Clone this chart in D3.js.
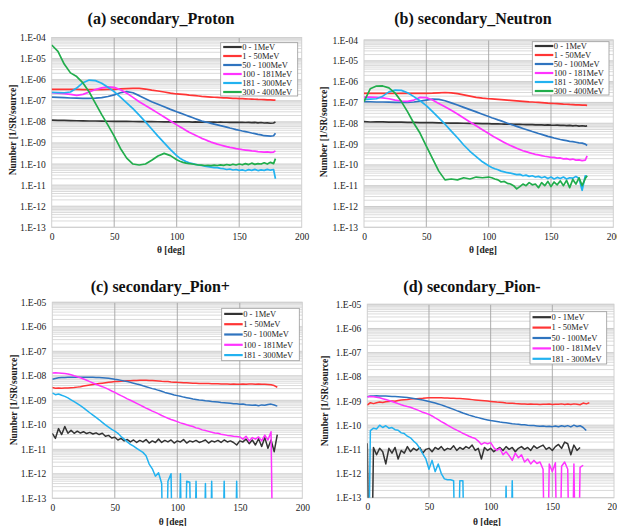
<!DOCTYPE html>
<html>
<head>
<meta charset="utf-8">
<script src="https://cdn.jsdelivr.net/npm/d3@7"></script>
<style>
body { margin: 0; background: #fff; }
svg { display: block; font-family: "Liberation Serif", "Times New Roman", serif; }
</style>
</head>
<body>
<svg id="chart" width="617" height="526"></svg>
<script>
// ---- data ----
const nucleonAngles = [0,5,10,15,20,25,30,35,40,45,50,55,60,65,70,75,80,85,90,95,100,
  102.5,105,107.5,110,112.5,115,117.5,120,122.5,125,127.5,130,132.5,135,137.5,140,142.5,145,147.5,150,
  152.5,155,157.5,160,162.5,165,167.5,170,172.5,175,177.5,179];

const pionAngles = [0,2.5,5,7.5,10,12.5,15,17.5,20,22.5,25,27.5,30,32.5,35,37.5,40,42.5,45,47.5,
  50,52.5,55,57.5,60,62.5,65,67.5,70,72.5,75,77.5,80,82.5,85,87.5,90,92.5,95,97.5,
  100,102.5,105,107.5,110,112.5,115,117.5,120,122.5,125,127.5,130,132.5,135,137.5,140,142.5,145,147.5,
  150,152.5,155,157.5,160,162.5,165,167.5,170,172.5,175,177.5,180];

const nucleonBands = ['0 - 1MeV', '1 - 50MeV', '50 - 100MeV', '100 - 181MeV', '181 - 300MeV', '300 - 400MeV'];
const pionBands = ['0 - 1MeV', '1 - 50MeV', '50 - 100MeV', '100 - 181MeV', '181 - 300MeV'];
const bandColors = ['#333333', '#ff3535', '#2f74bf', '#ff33ff', '#22b2f0', '#22ad4c'];

const xTicks = [0, 50, 100, 150, 200];
const yTicksNucleon = [1e-13,1e-12,1e-11,1e-10,1e-9,1e-8,1e-7,1e-6,1e-5,1e-4];
const yTicksPion = [1e-13,1e-12,1e-11,1e-10,1e-9,1e-8,1e-7,1e-6,1e-5];

// (a) secondary proton
const proton_0_1 = [1.2e-8,1.18e-8,1.17e-8,1.15e-8,1.13e-8,1.12e-8,1.1e-8,1.1e-8,1.08e-8,1.07e-8,
  1.06e-8,1.05e-8,1.05e-8,1.04e-8,1.03e-8,1.03e-8,1.02e-8,1.01e-8,1.0e-8,1.0e-8,1.0e-8,
  1.0e-8,9.9e-9,1.0e-8,9.9e-9,9.8e-9,9.9e-9,9.8e-9,9.8e-9,9.7e-9,9.8e-9,
  9.7e-9,9.7e-9,9.6e-9,9.7e-9,9.6e-9,9.6e-9,9.5e-9,9.6e-9,9.5e-9,9.4e-9,
  9.5e-9,9.3e-9,9.5e-9,9.2e-9,9.4e-9,9.0e-9,9.3e-9,8.8e-9,9.0e-9,8.6e-9,8.8e-9,1.0e-8];
const proton_1_50 = [3.5e-7,3.5e-7,3.5e-7,3.5e-7,3.45e-7,3.4e-7,3.4e-7,3.4e-7,3.4e-7,3.45e-7,
  3.5e-7,3.65e-7,3.8e-7,3.9e-7,3.9e-7,3.6e-7,3.2e-7,2.9e-7,2.6e-7,2.3e-7,2.1e-7,
  2.05e-7,2.0e-7,1.95e-7,1.85e-7,1.8e-7,1.75e-7,1.68e-7,1.62e-7,1.58e-7,1.54e-7,
  1.5e-7,1.47e-7,1.44e-7,1.41e-7,1.38e-7,1.36e-7,1.33e-7,1.31e-7,1.29e-7,1.27e-7,
  1.25e-7,1.23e-7,1.21e-7,1.2e-7,1.18e-7,1.16e-7,1.15e-7,1.13e-7,1.11e-7,1.1e-7,1.08e-7,1.07e-7];
const proton_50_100 = [1.5e-7,1.45e-7,1.4e-7,1.35e-7,1.32e-7,1.3e-7,1.3e-7,1.33e-7,1.4e-7,1.6e-7,
  1.9e-7,2.4e-7,2.7e-7,2.4e-7,1.75e-7,1.25e-7,9e-8,6.8e-8,5.2e-8,3.9e-8,3.0e-8,
  2.66e-8,2.34e-8,2.07e-8,1.82e-8,1.6e-8,1.41e-8,1.24e-8,1.1e-8,1.0e-8,9.3e-9,
  8.5e-9,7.8e-9,7.2e-9,6.6e-9,6.1e-9,5.6e-9,5.1e-9,4.7e-9,4.3e-9,4.0e-9,
  3.7e-9,3.45e-9,3.2e-9,2.95e-9,2.75e-9,2.55e-9,2.4e-9,2.2e-9,2.15e-9,2.1e-9,2.2e-9,2.9e-9];
const proton_100_181 = [2.4e-7,2.3e-7,2.2e-7,2.0e-7,1.8e-7,2.0e-7,2.6e-7,3.4e-7,4.1e-7,4.6e-7,
  4.3e-7,3.3e-7,2.3e-7,1.45e-7,9e-8,6e-8,4e-8,2.6e-8,1.7e-8,1.1e-8,7.2e-9,
  5.9e-9,4.8e-9,3.9e-9,3.2e-9,2.7e-9,2.3e-9,1.95e-9,1.65e-9,1.45e-9,1.25e-9,
  1.1e-9,9.8e-10,8.8e-10,8e-10,7.3e-10,6.7e-10,6.2e-10,5.8e-10,5.4e-10,5.1e-10,
  4.8e-10,4.6e-10,4.4e-10,4.2e-10,4.1e-10,3.9e-10,3.8e-10,3.7e-10,3.8e-10,3.6e-10,3.7e-10,4.2e-10];
const proton_181_300 = [2.5e-7,2.45e-7,2.4e-7,2.6e-7,4e-7,7.2e-7,9.6e-7,9e-7,6.8e-7,4.4e-7,
  2.7e-7,1.5e-7,8e-8,4.2e-8,2.1e-8,1e-8,4.6e-9,2.1e-9,1e-9,4.8e-10,2.5e-10,
  1.9e-10,1.55e-10,1.3e-10,1.15e-10,1.05e-10,9.6e-11,9e-11,8.5e-11,8e-11,7.6e-11,
  7.2e-11,6.8e-11,6.8e-11,6.2e-11,6e-11,5.5e-11,5.8e-11,5.2e-11,5.5e-11,5e-11,
  5.3e-11,4.8e-11,5.4e-11,5e-11,5.6e-11,4.9e-11,5.3e-11,5e-11,5.6e-11,5.1e-11,5.5e-11,2.0e-11];
const proton_300_400 = [4.4e-5,2.2e-5,5.5e-6,2.1e-6,1.4e-6,7e-7,2.6e-7,7.5e-8,2.2e-8,7e-9,
  2.1e-9,5.5e-10,1.9e-10,1.0e-10,9e-11,1.0e-10,1.5e-10,2.4e-10,3.2e-10,2.5e-10,1.6e-10,
  1.35e-10,1.2e-10,1.1e-10,1.05e-10,1.0e-10,9.5e-11,9e-11,8.8e-11,8.5e-11,8.6e-11,
  8.4e-11,8.8e-11,8.5e-11,9.2e-11,8.6e-11,9.5e-11,8.8e-11,9.8e-11,9e-11,1.0e-10,
  9.2e-11,1.05e-10,9.4e-11,1.1e-10,9.6e-11,1.05e-10,1.0e-10,1.15e-10,1.0e-10,1.2e-10,1.05e-10,1.8e-10];

// (b) secondary neutron
const neutron_0_1 = [1.2e-8,1.15e-8,1.18e-8,1.16e-8,1.14e-8,1.13e-8,1.12e-8,1.1e-8,1.1e-8,1.08e-8,
  1.07e-8,1.06e-8,1.05e-8,1.03e-8,1.02e-8,1.01e-8,1.0e-8,9.9e-9,9.8e-9,9.6e-9,9.5e-9,
  9.4e-9,9.3e-9,9.3e-9,9.2e-9,9.1e-9,9e-9,9e-9,8.9e-9,8.8e-9,8.8e-9,
  8.7e-9,8.6e-9,8.6e-9,8.5e-9,8.4e-9,8.4e-9,8.3e-9,8.2e-9,8.3e-9,8.1e-9,
  8e-9,8.1e-9,7.9e-9,8e-9,7.7e-9,7.9e-9,7.5e-9,7.8e-9,7.3e-9,7.6e-9,7.2e-9,7.5e-9];
const neutron_1_50 = [2.7e-7,2.7e-7,2.7e-7,2.7e-7,2.7e-7,2.68e-7,2.7e-7,2.7e-7,2.7e-7,2.72e-7,
  2.75e-7,2.8e-7,2.9e-7,3.0e-7,2.9e-7,2.65e-7,2.3e-7,2.0e-7,1.75e-7,1.6e-7,1.5e-7,
  1.47e-7,1.43e-7,1.4e-7,1.36e-7,1.33e-7,1.3e-7,1.26e-7,1.22e-7,1.19e-7,1.16e-7,
  1.13e-7,1.1e-7,1.07e-7,1.05e-7,1.02e-7,1.0e-7,9.8e-8,9.6e-8,9.3e-8,9.1e-8,
  8.9e-8,8.7e-8,8.5e-8,8.3e-8,8.2e-8,8e-8,7.9e-8,7.7e-8,7.6e-8,7.5e-8,7.4e-8,7.3e-8];
const neutron_50_100 = [1.1e-7,1.08e-7,1.05e-7,1.05e-7,1.03e-7,1.0e-7,1.0e-7,1.0e-7,1.05e-7,1.15e-7,
  1.3e-7,1.45e-7,1.4e-7,1.2e-7,9.5e-8,7.5e-8,5.8e-8,4.5e-8,3.5e-8,2.7e-8,2.1e-8,
  1.85e-8,1.65e-8,1.45e-8,1.3e-8,1.15e-8,1.0e-8,9e-9,8e-9,7.1e-9,6.3e-9,
  5.6e-9,5e-9,4.5e-9,4e-9,3.6e-9,3.2e-9,2.9e-9,2.6e-9,2.35e-9,2.15e-9,
  1.95e-9,1.8e-9,1.65e-9,1.55e-9,1.45e-9,1.35e-9,1.3e-9,1.22e-9,1.15e-9,1.1e-9,1.0e-9,8.5e-10];
const neutron_100_181 = [1.8e-7,1.78e-7,1.75e-7,1.65e-7,1.5e-7,1.3e-7,1.17e-7,1.12e-7,1.3e-7,1.75e-7,
  1.7e-7,1.3e-7,9e-8,6.2e-8,4.2e-8,2.8e-8,1.8e-8,1.15e-8,7.5e-9,4.9e-9,3.2e-9,
  2.6e-9,2.1e-9,1.75e-9,1.45e-9,1.2e-9,1.0e-9,8.5e-10,7.3e-10,6.3e-10,5.5e-10,
  4.8e-10,4.3e-10,3.9e-10,3.5e-10,3.2e-10,3.0e-10,2.8e-10,2.6e-10,2.45e-10,2.3e-10,
  2.3e-10,2.1e-10,2.15e-10,1.95e-10,2.0e-10,1.8e-10,1.9e-10,1.7e-10,1.75e-10,1.6e-10,1.7e-10,2.7e-10];
const neutron_181_300 = [1.4e-7,1.45e-7,1.5e-7,2e-7,3.2e-7,3.9e-7,3.8e-7,2.9e-7,1.9e-7,1.2e-7,
  7e-8,3.6e-8,1.8e-8,9e-9,4.2e-9,2e-9,9e-10,4.5e-10,2.5e-10,1.4e-10,9e-11,
  7.5e-11,6.5e-11,5.8e-11,5e-11,4.6e-11,4.2e-11,4e-11,3.7e-11,3.4e-11,3.5e-11,
  3e-11,3.2e-11,2.8e-11,3e-11,2.6e-11,2.8e-11,2.4e-11,2.7e-11,2.2e-11,2.6e-11,
  2.1e-11,2.5e-11,2.2e-11,2.6e-11,2.1e-11,2.4e-11,2.3e-11,2.8e-11,2.2e-11,6e-12,3e-11,2.7e-11];
const neutron_300_400 = [1.1e-7,4.5e-7,6.1e-7,6.2e-7,5e-7,2.8e-7,1.1e-7,3.5e-8,1.0e-8,3.3e-9,
  8e-10,2e-10,5e-11,1.9e-11,2.1e-11,1.9e-11,2.4e-11,2.1e-11,2.6e-11,2.4e-11,2.6e-11,
  2.4e-11,2.1e-11,1.9e-11,1.5e-11,1.6e-11,1.3e-11,1.2e-11,1.0e-11,7e-12,9e-12,
  1.2e-11,1.0e-11,1.4e-11,1.1e-11,1.2e-11,8e-12,1.4e-11,1.0e-11,1.6e-11,9e-12,
  1.5e-11,1.1e-11,1.7e-11,1.0e-11,1.8e-11,8e-12,2.0e-11,1.2e-11,2.4e-11,1.0e-11,2.2e-11,3e-11];

// (c) secondary pion+  (1e-20 = zero count, null = no data)
const pionPlus_0_1 = [4.5e-11,2.8e-11,7e-11,4e-11,8.5e-11,4.5e-11,6e-11,4.5e-11,5.5e-11,4.6e-11,
  5.2e-11,4.4e-11,4.9e-11,4.2e-11,4.7e-11,4e-11,4.5e-11,3.4e-11,3.7e-11,2.9e-11,
  3.1e-11,2.4e-11,2.8e-11,2.2e-11,2.5e-11,2.0e-11,2.4e-11,1.9e-11,2.3e-11,2e-11,
  2.5e-11,1.8e-11,2.2e-11,1.9e-11,2.6e-11,1.9e-11,2.3e-11,2e-11,2.4e-11,1.8e-11,
  2.2e-11,2e-11,2.5e-11,1.8e-11,2.2e-11,2e-11,2.3e-11,1.9e-11,2.1e-11,2.4e-11,
  1.8e-11,2.2e-11,2e-11,2.3e-11,1.9e-11,2.4e-11,2e-11,2.2e-11,1.9e-11,1.5e-11,
  2.2e-11,2e-11,2.6e-11,1.7e-11,2.4e-11,1.5e-11,2.7e-11,1.3e-11,3e-11,1.1e-11,
  2.4e-11,8e-12,4e-11];
const pionPlus_1_50 = [3.3e-9,3.1e-9,3.2e-9,3.1e-9,3.2e-9,3.15e-9,3.25e-9,3.3e-9,3.45e-9,3.6e-9,
  3.8e-9,4.0e-9,4.2e-9,4.4e-9,4.6e-9,4.8e-9,5.0e-9,5.2e-9,5.4e-9,5.6e-9,
  5.8e-9,5.9e-9,6.0e-9,6.15e-9,6.3e-9,6.35e-9,6.45e-9,6.5e-9,6.6e-9,6.55e-9,
  6.6e-9,6.5e-9,6.4e-9,6.3e-9,6.2e-9,6.0e-9,5.9e-9,5.8e-9,5.6e-9,5.5e-9,
  5.4e-9,5.35e-9,5.2e-9,5.15e-9,5.1e-9,5.0e-9,5.0e-9,4.9e-9,4.9e-9,4.8e-9,
  4.8e-9,4.75e-9,4.7e-9,4.7e-9,4.6e-9,4.65e-9,4.6e-9,4.55e-9,4.6e-9,4.5e-9,
  4.5e-9,4.6e-9,4.5e-9,4.6e-9,4.6e-9,4.5e-9,4.6e-9,4.5e-9,4.5e-9,4.4e-9,
  4.3e-9,4.0e-9,3.4e-9];
const pionPlus_50_100 = [7.2e-9,7.8e-9,8.3e-9,8.5e-9,8.6e-9,8.7e-9,8.7e-9,8.8e-9,8.8e-9,8.8e-9,
  8.8e-9,8.8e-9,8.7e-9,8.7e-9,8.6e-9,8.5e-9,8.4e-9,8.2e-9,7.9e-9,7.6e-9,
  7.2e-9,6.9e-9,6.5e-9,6.1e-9,5.8e-9,5.4e-9,5.0e-9,4.6e-9,4.3e-9,3.9e-9,
  3.6e-9,3.3e-9,3.0e-9,2.8e-9,2.55e-9,2.35e-9,2.1e-9,1.95e-9,1.8e-9,1.65e-9,
  1.55e-9,1.45e-9,1.35e-9,1.27e-9,1.2e-9,1.13e-9,1.08e-9,1.03e-9,1.0e-9,9.6e-10,
  9.3e-10,9.0e-10,8.8e-10,8.5e-10,8.2e-10,8.0e-10,7.8e-10,7.6e-10,7.3e-10,7.2e-10,
  6.9e-10,7.0e-10,6.6e-10,6.5e-10,6.3e-10,6.4e-10,6.0e-10,6.5e-10,6.3e-10,6.8e-10,
  7.0e-10,6.4e-10,5.8e-10];
const pionPlus_100_181 = [1.3e-8,1.32e-8,1.3e-8,1.28e-8,1.24e-8,1.18e-8,1.1e-8,1.0e-8,9.2e-9,8.3e-9,
  7.4e-9,6.6e-9,5.8e-9,5.1e-9,4.5e-9,4e-9,3.6e-9,3.2e-9,2.8e-9,2.4e-9,
  2.1e-9,1.8e-9,1.55e-9,1.35e-9,1.15e-9,1.0e-9,8.7e-10,7.5e-10,6.5e-10,5.6e-10,
  4.8e-10,4.2e-10,3.6e-10,3.2e-10,2.8e-10,2.4e-10,2.1e-10,1.85e-10,1.65e-10,1.5e-10,
  1.35e-10,1.2e-10,1.1e-10,1.0e-10,9.2e-11,8.5e-11,7.5e-11,7e-11,6.2e-11,5.8e-11,
  5.4e-11,5e-11,4.6e-11,4.5e-11,4.1e-11,3.9e-11,3.7e-11,3.6e-11,3.4e-11,3.3e-11,
  3.2e-11,2.6e-11,3.4e-11,2.2e-11,3e-11,2.6e-11,3.2e-11,2.2e-11,3.8e-11,2.4e-11,
  5.2e-11,1e-20,null];
const pionPlus_181_300 = [2.0e-9,1.7e-9,1.8e-9,1.6e-9,1.45e-9,1.25e-9,1.05e-9,8.8e-10,7.3e-10,6e-10,
  4.9e-10,3.9e-10,3.1e-10,2.5e-10,2e-10,1.6e-10,1.25e-10,1.0e-10,8e-11,6.5e-11,
  5.5e-11,4.5e-11,3.3e-11,2.6e-11,2e-11,1.6e-11,1.35e-11,1.1e-11,9e-12,7.5e-12,
  5.5e-12,2.5e-12,1.6e-12,8e-13,1.1e-12,4e-13,1e-20,5e-13,1e-12,1e-20,
  1e-20,1e-12,1e-20,5e-13,4.5e-13,1e-20,5e-13,1e-20,1e-20,4e-13,
  1e-20,5e-13,1e-20,1e-20,1e-20,5e-13,1e-20,1e-20,1e-20,5e-13,
  1e-20,null,null,null,null,null,null,null,null,null,
  null,null,null];

// (d) secondary pion-
const pionMinus_0_1 = [1.8e-11,1e-20,1.2e-11,6e-12,1.1e-11,8e-12,2.5e-12,1.1e-11,7e-12,1.2e-11,
  4e-12,9e-12,7e-12,1.3e-11,8e-12,1.1e-11,9e-12,1.2e-11,7e-12,1.0e-11,
  1.1e-11,8e-12,1.2e-11,1.0e-11,1.3e-11,9e-12,1.1e-11,1.0e-11,1.4e-11,9e-12,
  1.2e-11,1.0e-11,1.3e-11,1.1e-11,1.5e-11,9e-12,1.1e-11,4e-12,1.2e-11,9e-12,
  1.1e-11,8e-12,1.0e-11,1.2e-11,9e-12,1.3e-11,1.0e-11,1.2e-11,8e-12,1.1e-11,
  1.3e-11,1.0e-11,1.2e-11,9e-12,1.4e-11,1.1e-11,1.3e-11,1.5e-11,1.0e-11,1.2e-11,
  9e-12,1.3e-11,1.6e-11,1.1e-11,2e-11,1.7e-11,6e-12,1.5e-11,9e-12,1.2e-11,
  null,null,null];
const pionMinus_1_50 = [6.8e-10,8.5e-10,7.8e-10,8.5e-10,9.0e-10,8.6e-10,9.3e-10,9.5e-10,1.0e-9,9.8e-10,
  1.05e-9,1.1e-9,1.13e-9,1.15e-9,1.2e-9,1.23e-9,1.25e-9,1.28e-9,1.3e-9,1.33e-9,
  1.35e-9,1.36e-9,1.35e-9,1.36e-9,1.35e-9,1.34e-9,1.33e-9,1.31e-9,1.3e-9,1.28e-9,
  1.26e-9,1.23e-9,1.2e-9,1.17e-9,1.14e-9,1.11e-9,1.08e-9,1.05e-9,1.02e-9,9.9e-10,
  9.6e-10,9.3e-10,9.0e-10,8.8e-10,8.6e-10,8.3e-10,8.1e-10,8.0e-10,7.8e-10,7.7e-10,
  7.5e-10,7.6e-10,7.4e-10,7.5e-10,7.3e-10,7.4e-10,7.2e-10,7.3e-10,7.3e-10,7.5e-10,
  7.2e-10,7.4e-10,7.3e-10,7.6e-10,7.2e-10,7.5e-10,7.1e-10,7.6e-10,7.3e-10,7.0e-10,
  8.2e-10,7.6e-10,8.4e-10];
const pionMinus_50_100 = [1.5e-9,1.6e-9,1.62e-9,1.63e-9,1.62e-9,1.61e-9,1.6e-9,1.58e-9,1.55e-9,1.53e-9,
  1.5e-9,1.46e-9,1.42e-9,1.38e-9,1.33e-9,1.28e-9,1.22e-9,1.16e-9,1.1e-9,1.03e-9,
  9.6e-10,8.9e-10,8.2e-10,7.5e-10,6.9e-10,6.2e-10,5.6e-10,5.0e-10,4.5e-10,4.0e-10,
  3.6e-10,3.2e-10,2.9e-10,2.6e-10,2.4e-10,2.2e-10,2.05e-10,1.9e-10,1.75e-10,1.65e-10,
  1.55e-10,1.5e-10,1.42e-10,1.35e-10,1.3e-10,1.25e-10,1.2e-10,1.15e-10,1.12e-10,1.1e-10,
  1.05e-10,1.03e-10,1.0e-10,9.8e-11,9.6e-11,9.3e-11,9e-11,9.2e-11,8.8e-11,9e-11,
  8.7e-11,9.3e-11,8.6e-11,9.5e-11,8.8e-11,9.6e-11,8.5e-11,1.0e-10,8.8e-11,9.5e-11,
  8e-11,6e-11,null];
const pionMinus_100_181 = [1.5e-9,1.55e-9,1.5e-9,1.42e-9,1.35e-9,1.25e-9,1.15e-9,1.05e-9,9.5e-10,8.6e-10,
  7.8e-10,7e-10,6.4e-10,5.9e-10,5.5e-10,4.9e-10,4.4e-10,3.9e-10,3.4e-10,3.1e-10,
  2.8e-10,2.4e-10,2e-10,1.7e-10,1.4e-10,1.2e-10,1.0e-10,8.5e-11,7.2e-11,6.2e-11,
  5.4e-11,4.6e-11,4e-11,3.5e-11,3.1e-11,2.8e-11,2.2e-11,1.6e-11,1.9e-11,1.7e-11,
  1.9e-11,1.2e-11,9e-12,1.1e-11,6e-12,8e-12,5.5e-12,3.5e-12,7e-12,4.5e-12,
  6e-12,3e-12,4e-12,2.5e-12,3.5e-12,2.6e-12,3e-12,1.5e-12,1e-20,2.5e-12,
  1.2e-12,2.8e-12,1e-20,2e-12,3e-12,1.5e-12,1e-20,2.5e-12,1e-20,1.8e-12,
  2.2e-12,null,null];
const pionMinus_181_300 = [1e-20,6e-11,7.5e-11,7e-11,1.0e-10,8e-11,9.5e-11,7.5e-11,8e-11,6.5e-11,
  6.2e-11,4.8e-11,4.5e-11,3.5e-11,3.0e-11,2.2e-11,1.7e-11,1.1e-11,6.5e-12,4e-12,
  1.5e-12,3.5e-12,1.2e-12,2.5e-12,1.0e-12,6e-13,5.5e-13,5.5e-13,5e-13,1e-20,
  5e-13,5e-13,1e-20,1e-20,1e-20,1e-20,1e-20,1e-20,1e-20,1e-20,
  1e-20,1e-20,1e-20,1e-20,1e-20,3e-13,1e-20,5e-13,1e-20,null,
  null,null,null,null,null,null,null,null,null,null,
  null,null,null,null,null,null,null,null,null,null,
  null,null,null];

// ---- panels ----
const panels = [
  { title: '(a) secondary_Proton', angles: nucleonAngles, bands: nucleonBands, yTicks: yTicksNucleon,
    series: [proton_0_1, proton_1_50, proton_50_100, proton_100_181, proton_181_300, proton_300_400] },
  { title: '(b) secondary_Neutron', angles: nucleonAngles, bands: nucleonBands, yTicks: yTicksNucleon,
    series: [neutron_0_1, neutron_1_50, neutron_50_100, neutron_100_181, neutron_181_300, neutron_300_400] },
  { title: '(c) secondary_Pion+', angles: pionAngles, bands: pionBands, yTicks: yTicksPion,
    series: [pionPlus_0_1, pionPlus_1_50, pionPlus_50_100, pionPlus_100_181, pionPlus_181_300] },
  { title: '(d) secondary_Pion-', angles: pionAngles, bands: pionBands, yTicks: yTicksPion,
    series: [pionMinus_0_1, pionMinus_1_50, pionMinus_50_100, pionMinus_100_181, pionMinus_181_300] }
];

// page layout of each panel
const layouts = [
  { l: 51.7, r: 301.7, t: 37.5, b: 227.3, titleX: 161, titleY: 24, xlabX: 171, xlabY: 253, ylabX: 13, ylabY: 130,
    leg: { x: 220.7, y: 42.7, w: 77, h: 53.3, first: 4.3, gap: 9 }, lw: 1.7 },
  { l: 364, r: 613.3, t: 40, b: 227.3, titleX: 473, titleY: 24, xlabX: 483, xlabY: 253, ylabX: 324, ylabY: 132,
    leg: { x: 532.3, y: 41.7, w: 76.7, h: 53.3, first: 4.3, gap: 9 }, lw: 1.7 },
  { l: 52.3, r: 302.3, t: 302.3, b: 498.3, titleX: 160.3, titleY: 292, xlabX: 172.7, xlabY: 524.5, ylabX: 13.5, ylabY: 400,
    leg: { x: 221.7, y: 308.3, w: 77.6, h: 52.4, first: 5.6, gap: 10.3 }, lw: 1.5 },
  { l: 367.3, r: 614, t: 304.3, b: 497.7, titleX: 472, titleY: 292, xlabX: 487, xlabY: 524.5, ylabX: 325, ylabY: 401,
    leg: { x: 530, y: 311.7, w: 76.7, h: 52.3, first: 5.5, gap: 10.4 }, lw: 1.5 }
];

const svg = d3.select('#chart');
const defs = svg.append('defs');

function expLabel(v) {
    let e = Math.round(Math.log10(v));
    return '1.E' + (e < 0 ? '-' : '+') + String(Math.abs(e)).padStart(2, '0');
}

panels.forEach(function (p, pi) {
    let L = layouts[pi];
    let yTop = p.yTicks[p.yTicks.length - 1];

    let x = d3.scaleLinear().domain([0, 200]).range([L.l, L.r]);
    let y = d3.scaleLog().domain([1e-13, yTop]).range([L.b, L.t]);

    let g = svg.append('g');

    // minor log gridlines (2..9 in each decade)
    let minor = [];
    p.yTicks.slice(0, -1).forEach(function (d) {
        for (let m = 2; m <= 9; m++) minor.push(d * m);
    });
    g.append('g').selectAll('line').data(minor).enter().append('line')
        .attr('x1', L.l).attr('x2', L.r)
        .attr('y1', d => y(d)).attr('y2', d => y(d))
        .style('stroke', '#d6d6d6').style('stroke-width', 0.9);
    g.append('g').selectAll('line').data(p.yTicks).enter().append('line')
        .attr('x1', L.l).attr('x2', L.r)
        .attr('y1', d => y(d)).attr('y2', d => y(d))
        .style('stroke', '#cccccc').style('stroke-width', 1);

    // vertical gridlines
    g.append('g').selectAll('line').data(xTicks.slice(1, -1)).enter().append('line')
        .attr('x1', d => x(d)).attr('x2', d => x(d))
        .attr('y1', L.t).attr('y2', L.b)
        .style('stroke', '#a4a4a4').style('stroke-width', 0.9);

    // plot border
    g.append('rect')
        .attr('x', L.l).attr('y', L.t)
        .attr('width', L.r - L.l).attr('height', L.b - L.t)
        .style('fill', 'none').style('stroke', '#d0d0d0').style('stroke-width', 1);

    // axes
    let yAxis = d3.axisLeft(y).tickValues(p.yTicks).tickFormat(expLabel).tickSize(0).tickPadding(6);
    let ya = g.append('g').attr('transform', 'translate(' + L.l + ',0)').call(yAxis);
    let xAxis = d3.axisBottom(x).tickValues(xTicks).tickSize(0).tickPadding(6);
    let xa = g.append('g').attr('transform', 'translate(0,' + L.b + ')').call(xAxis);
    [ya, xa].forEach(function (a) {
        a.select('.domain').remove();
        a.selectAll('text')
            .style('font-family', '"Liberation Serif", "Times New Roman", serif')
            .style('font-size', '9.5px').style('fill', '#222');
    });

    // series lines
    defs.append('clipPath').attr('id', 'clip' + pi).append('rect')
        .attr('x', L.l).attr('y', L.t)
        .attr('width', L.r - L.l).attr('height', L.b - L.t);

    let line = d3.line()
        .defined(d => d.v != null)
        .x(d => x(d.a))
        .y(d => y(d.v));

    let lines = g.append('g').attr('clip-path', 'url(#clip' + pi + ')');
    p.series.forEach(function (vals, si) {
        let pts = p.angles.map((a, i) => ({ a: a, v: vals[i] }));
        lines.append('path')
            .datum(pts)
            .attr('d', line)
            .style('fill', 'none')
            .style('stroke', bandColors[si])
            .style('stroke-width', L.lw)
            .style('stroke-linejoin', 'round');
    });

    // legend
    let lg = g.append('g').attr('transform', 'translate(' + L.leg.x + ',' + L.leg.y + ')');
    lg.append('rect')
        .attr('width', L.leg.w).attr('height', L.leg.h)
        .style('fill', '#fff').style('stroke', '#9a9a9a').style('stroke-width', 0.8);
    p.bands.forEach(function (name, si) {
        let ry = L.leg.first + si * L.leg.gap;
        lg.append('line')
            .attr('x1', 2.5).attr('x2', 21)
            .attr('y1', ry).attr('y2', ry)
            .style('stroke', bandColors[si]).style('stroke-width', 2.2);
        lg.append('text')
            .attr('x', 21.5).attr('y', ry).attr('dy', '0.33em')
            .style('font-size', '8.5px').style('fill', '#222')
            .text(name);
    });

    // titles
    g.append('text')
        .attr('x', L.titleX).attr('y', L.titleY)
        .attr('text-anchor', 'middle')
        .style('font-size', '16px').style('font-weight', 'bold').style('fill', '#111')
        .text(p.title);
    g.append('text')
        .attr('x', L.xlabX).attr('y', L.xlabY)
        .attr('text-anchor', 'middle')
        .style('font-size', '9.5px').style('font-weight', 'bold').style('fill', '#222')
        .text('θ [deg]');
    g.append('text')
        .attr('transform', 'translate(' + L.ylabX + ',' + L.ylabY + ') rotate(-90)')
        .attr('text-anchor', 'middle').attr('dy', '0.35em')
        .style('font-size', '9.5px').style('font-weight', 'bold').style('fill', '#222')
        .text('Number [1/SR/source]');
});
</script>
</body>
</html>
